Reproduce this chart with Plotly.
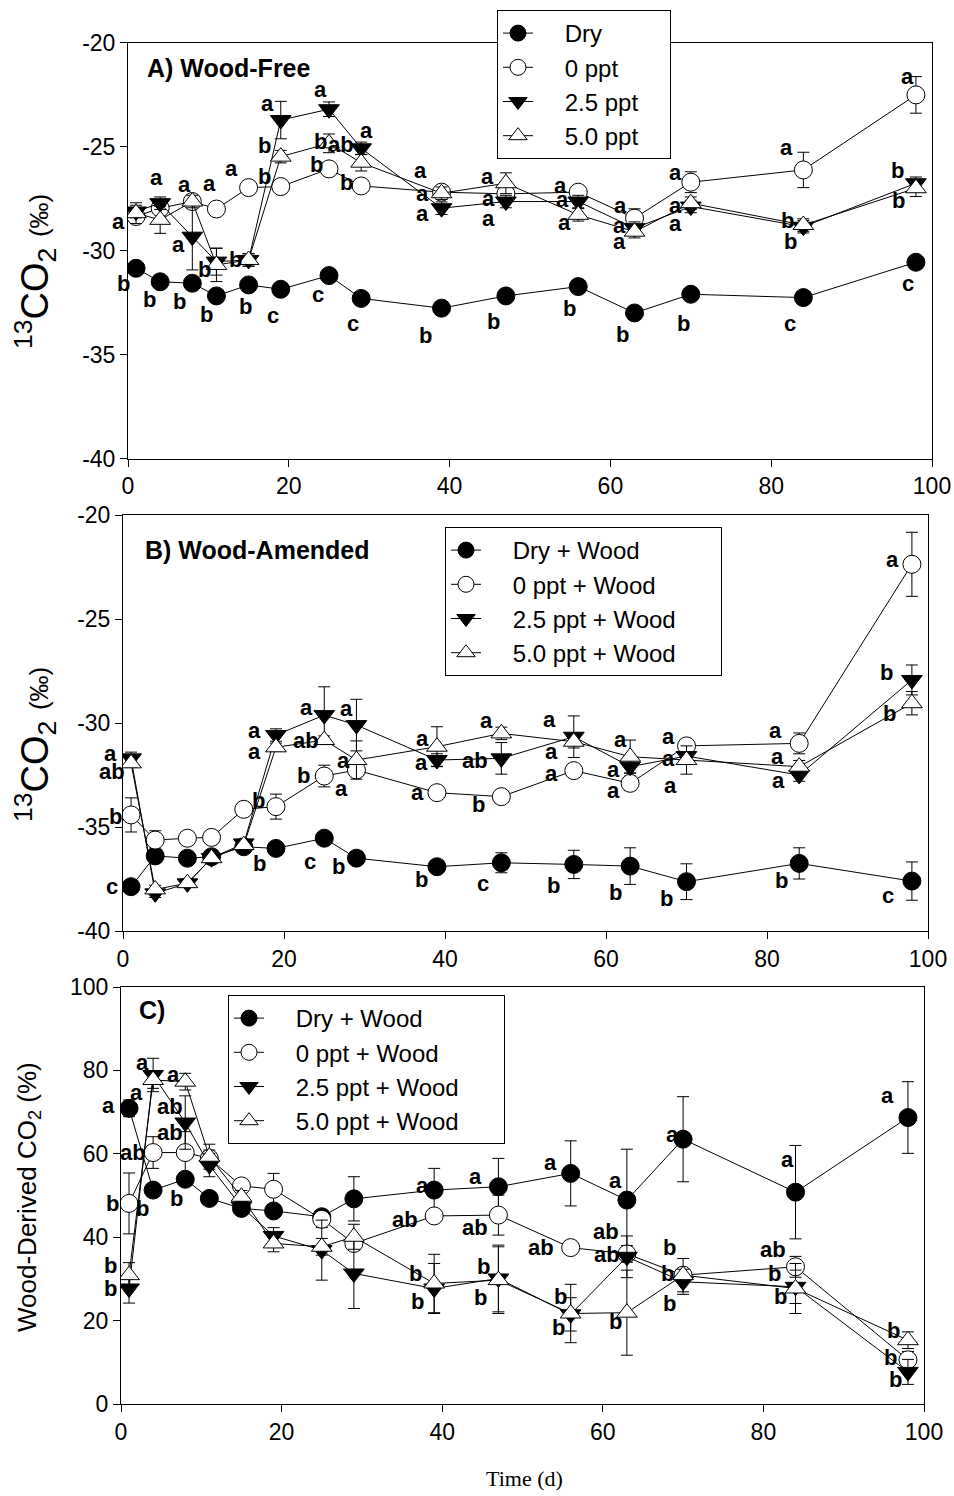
import plotly.graph_objects as go

# ---------------- data ----------------
times = [1, 4, 8, 11, 15, 19, 25, 29, 39, 47, 56, 63, 70, 84, 98]

# Panel A: 13CO2, wood-free
A_dry = [-30.85, -31.5, -31.57, -32.18, -31.65, -31.86, -31.2, -32.3, -32.77, -32.18, -31.73, -33.0, -32.1, -32.26, -30.56]
A_dry_err = [0.2] * 15
A_0 = [-28.36, -27.96, -27.64, -28.0, -26.97, -26.92, -26.07, -26.89, -27.19, -27.27, -27.19, -28.44, -26.71, -26.12, -22.51]
A_0_err = [0.3, 0.3, 0.3, 0.2, 0.2, 0.2, 0.3, 0.2, 0.3, 0.3, 0.3, 0.45, 0.5, 0.85, 0.88]
A_25 = [-28.12, -27.72, -29.33, -30.53, -30.45, -23.72, -23.2, -25.08, -27.96, -27.64, -27.64, -28.92, -27.88, -28.85, -26.76]
A_25_err = [0.3, 0.3, 1.6, 0.65, 0.3, 0.9, 0.35, 0.3, 0.3, 0.3, 0.3, 0.3, 0.3, 0.3, 0.3]
A_50 = [-28.2, -28.52, -27.64, -30.69, -30.45, -25.48, -24.84, -25.77, -27.24, -26.76, -28.28, -29.09, -27.72, -28.77, -27.0]
A_50_err = [0.5, 0.65, 0.3, 0.8, 0.3, 0.3, 0.45, 0.4, 0.3, 0.5, 0.3, 0.3, 0.3, 0.3, 0.4]

A_dry_let = ["b", "b", "b", "b", "b", "c", "c", "c", "b", "b", "b", "b", "b", "c", "c"]
A_0_let = ["a", "a", "a", "a", "a", "b", "b", "b", "a", "a", "a", "a", "a", "a", "a"]
A_25_let = ["", "", "a", "b", "", "a", "a", "a", "a", "a", "a", "a", "a", "b", "b"]
A_50_let = ["", "", "", "", "b", "b", "b", "ab", "a", "a", "a", "a", "a", "b", "b"]

# Panel B: 13CO2, wood-amended
B_dry = [-37.87, -36.39, -36.5, -36.43, -35.95, -36.03, -35.54, -36.5, -36.91, -36.72, -36.8, -36.88, -37.63, -36.75, -37.6]
B_dry_err = [0.2, 0.2, 0.2, 0.2, 0.2, 0.2, 0.2, 0.2, 0.2, 0.48, 0.68, 0.88, 0.86, 0.75, 0.92]
B_0 = [-34.42, -35.63, -35.54, -35.5, -34.15, -34.02, -32.55, -32.26, -33.35, -33.54, -32.29, -32.9, -31.1, -30.98, -22.37]
B_0_err = [0.82, 0.45, 0.2, 0.2, 0.2, 0.6, 0.52, 0.2, 0.2, 0.2, 0.2, 0.35, 0.3, 0.5, 1.54]
B_25 = [-31.7, -38.19, -37.71, -36.5, -35.79, -30.58, -29.62, -30.1, -31.78, -31.7, -30.66, -32.1, -31.59, -32.5, -27.93]
B_25_err = [0.3, 0.2, 0.2, 0.2, 0.2, 0.3, 1.36, 1.24, 0.3, 0.76, 1.0, 0.3, 0.2, 0.3, 0.72]
B_50 = [-31.94, -38.0, -37.7, -36.5, -35.87, -31.17, -30.82, -31.78, -31.14, -30.5, -30.9, -31.62, -31.78, -32.1, -29.05]
B_50_err = [0.2, 0.2, 0.2, 0.2, 0.2, 0.2, 0.2, 0.92, 0.96, 0.3, 0.3, 0.8, 0.68, 0.3, 0.56]

B_dry_let = ["c", "", "", "", "", "b", "c", "b", "b", "c", "b", "b", "b", "b", "c"]
B_0_let = ["b", "", "", "", "", "b", "b", "a", "a", "b", "a", "a", "a", "a", "a"]
B_25_let = ["a", "", "", "", "", "a", "a", "a", "a", "ab", "a", "a", "a", "a", "b"]
B_50_let = ["ab", "", "", "", "", "a", "ab", "a", "a", "a", "a", "a", "a", "a", "b"]

# Panel C: wood-derived CO2 (%)
C_dry = [70.9, 51.3, 53.9, 49.3, 46.9, 46.3, 44.9, 49.2, 51.3, 52.1, 55.3, 48.9, 63.5, 50.8, 68.7]
C_dry_err = [2.0, 1.5, 1.5, 1.5, 1.5, 1.5, 1.5, 5.3, 5.2, 6.8, 7.8, 12.2, 10.2, 11.2, 8.6]
C_0 = [48.1, 60.3, 60.3, 58.9, 52.3, 51.5, 44.3, 38.5, 45.1, 45.3, 37.5, 36.0, 30.9, 32.9, 10.6]
C_0_err = [7.3, 3.8, 5.0, 2.0, 1.5, 3.8, 2.0, 1.5, 1.5, 4.8, 1.5, 2.0, 1.5, 2.5, 2.0]
C_25 = [27.7, 78.9, 67.5, 57.3, 47.3, 40.3, 36.9, 31.3, 27.7, 30.1, 21.5, 35.3, 29.3, 28.1, 7.7]
C_25_err = [3.5, 4.0, 6.4, 2.8, 1.5, 2.0, 7.2, 8.4, 6.0, 8.0, 4.0, 5.0, 3.0, 4.0, 3.0]
C_50 = [30.9, 77.7, 77.3, 59.3, 49.7, 38.5, 37.7, 40.1, 28.9, 29.7, 21.7, 21.9, 30.9, 27.7, 15.3]
C_50_err = [3.0, 2.0, 2.0, 3.0, 1.5, 2.0, 2.0, 3.0, 7.0, 8.0, 7.0, 10.2, 4.0, 6.0, 2.0]

C_dry_let = ["a", "b", "b", "", "", "", "", "", "a", "a", "a", "a", "a", "a", "a"]
C_0_let = ["b", "ab", "ab", "", "", "", "", "", "ab", "ab", "ab", "ab", "b", "ab", "b"]
C_25_let = ["b", "a", "ab", "", "", "", "", "", "b", "b", "b", "ab", "b", "b", "b"]
C_50_let = ["b", "a", "a", "", "", "", "", "", "b", "b", "b", "b", "b", "b", "b"]

x_ticks = [0, 20, 40, 60, 80, 100]
x_ticklabels = ["0", "20", "40", "60", "80", "100"]
AB_yticks = [-40, -35, -30, -25, -20]
AB_yticklabels = ["-40", "-35", "-30", "-25", "-20"]
C_yticks = [0, 20, 40, 60, 80, 100]
C_yticklabels = ["0", "20", "40", "60", "80", "100"]

# ---------------- label offsets (pixels: dx right, dy down) ----------------
A_dry_off = [(-13, 15), (-11, 18), (-13, 18), (-10, 19), (-3, 22), (-8, 26), (-11, 19), (-8, 25), (-16, 27), (-12, 26), (-9, 22), (-12, 22), (-7, 29), (-13, 26), (-8, 21)]
A_0_off = [(-18, 5), (-4, -31), (-8, -17), (-7, -26), (-17, -19), (-16, -10), (-13, -4), (-15, -3), (-21, -22), (-17, 5), (-18, -7), (-14, -13), (-15, -10), (-17, -22), (-8, -18)]
A_25_off = [(0, 0), (0, 0), (-14, 8), (-12, 8), (0, 0), (-13, -17), (-9, -20), (5, -18), (-19, 5), (-17, 17), (-16, -2), (-15, -3), (-15, 17), (-13, 15), (-18, -13)]
A_50_off = [(0, 0), (0, 0), (0, 0), (0, 0), (-13, 0), (-16, -11), (-9, -2), (-20, -18), (-19, 0), (-18, -7), (-14, 8), (-15, 10), (-15, 2), (-16, -5), (-17, 12)]

B_dry_off = [(-19, 0), (0, 0), (0, 0), (0, 0), (0, 0), (-16, 15), (-14, 23), (-18, 8), (-15, 13), (-18, 21), (-20, 21), (-15, 26), (-20, 17), (-18, 17), (-24, 14)]
B_0_off = [(-16, 2), (0, 0), (0, 0), (0, 0), (0, 0), (-17, -6), (-21, -1), (-15, 18), (-19, 0), (-23, 8), (-22, 3), (-17, 7), (-18, -9), (-24, -13), (-19, -5)]
B_25_off = [(-21, -5), (0, 0), (0, 0), (0, 0), (0, 0), (-21, -5), (-18, -8), (-10, -17), (-15, 2), (-26, 2), (-24, -17), (-17, 3), (-18, 2), (-21, 5), (-25, -7)]
B_50_off = [(-19, 8), (0, 0), (0, 0), (0, 0), (0, 0), (-21, 4), (-18, 0), (-13, 0), (-14, -8), (-15, -13), (-22, 10), (-10, -17), (-16, 25), (-22, -10), (-22, 10)]

C_dry_off = [(-21, -3), (-11, 18), (-9, 19), (0, 0), (0, 0), (0, 0), (0, 0), (0, 0), (-12, -5), (-23, -10), (-20, -11), (-11, -20), (-11, -5), (-8, -33), (-20, -22)]
C_0_off = [(-17, 0), (-20, 0), (-15, -20), (0, 0), (0, 0), (0, 0), (0, 0), (0, 0), (-29, 4), (-23, 12), (-30, 0), (-21, -22), (-14, -28), (-23, -17), (-17, -2)]
C_25_off = [(-19, 0), (-11, -12), (-15, -16), (0, 0), (0, 0), (0, 0), (0, 0), (0, 0), (-17, 13), (-15, -12), (-10, -18), (-20, -2), (-14, 22), (-15, 10), (-12, 8)]
C_50_off = [(-19, -10), (-17, 13), (-12, -7), (0, 0), (0, 0), (0, 0), (0, 0), (0, 0), (-19, -10), (-18, 17), (-12, 14), (-11, 9), (-16, -2), (-21, -15), (-14, -10)]

# ---------------- figure ----------------
PAGE_OFF = 0                    # body margin removed by post_script below
W, H = 954, 1496
FONT = "Liberation Sans, Arial, sans-serif"
NB = "\u00a0"

def fx(p):
    return (p - PAGE_OFF) / W

def fy(p):
    return 1 - (p - PAGE_OFF) / H

fig = go.Figure()

styles = [
    dict(symbol="circle", color="black"),
    dict(symbol="circle", color="white"),
    dict(symbol="triangle-down", color="black"),
    dict(symbol="triangle-up", color="white"),
]

panels = [
    ("x", "y", "legend", ["Dry", "0 ppt", "2.5 ppt", "5.0 ppt"], 4,
     [(A_dry, A_dry_err, A_dry_let, A_dry_off), (A_0, A_0_err, A_0_let, A_0_off),
      (A_25, A_25_err, A_25_let, A_25_off), (A_50, A_50_err, A_50_let, A_50_off)]),
    ("x2", "y2", "legend2", ["Dry + Wood", "0 ppt + Wood", "2.5 ppt + Wood", "5.0 ppt + Wood"], 6,
     [(B_dry, B_dry_err, B_dry_let, B_dry_off), (B_0, B_0_err, B_0_let, B_0_off),
      (B_25, B_25_err, B_25_let, B_25_off), (B_50, B_50_err, B_50_let, B_50_off)]),
    ("x3", "y3", "legend3", ["Dry + Wood", "0 ppt + Wood", "2.5 ppt + Wood", "5.0 ppt + Wood"], 6,
     [(C_dry, C_dry_err, C_dry_let, C_dry_off), (C_0, C_0_err, C_0_let, C_0_off),
      (C_25, C_25_err, C_25_let, C_25_off), (C_50, C_50_err, C_50_let, C_50_off)]),
]

annotations = []
for xa, ya, lg, names, pad, series in panels:
    for k, (vals, errs, lets, offs) in enumerate(series):
        st = styles[k]
        fig.add_trace(go.Scatter(
            x=times, y=vals, xaxis=xa, yaxis=ya, name=NB * 4 + names[k] + NB * pad, legend=lg,
            mode="lines+markers",
            line=dict(color="black", width=1),
            marker=dict(symbol=st["symbol"], size=18, color=st["color"],
                        line=dict(color="black", width=1)),
            error_y=dict(type="data", array=errs, visible=True, color="black",
                         thickness=1, width=6),
        ))
    for k, (vals, errs, lets, offs) in enumerate(series):
        for t, v, L, (dx, dy) in zip(times, vals, lets, offs):
            if not L:
                continue
            annotations.append(dict(
                x=t, y=v, xref=xa, yref=ya, text="<b>%s</b>" % L, showarrow=False,
                xshift=dx, yshift=-dy, xanchor="center", yanchor="middle",
                font=dict(family=FONT, size=22, color="black")))

# plot frames in page pixels
dom = {
    "A": dict(x=(128, 932), y=(42.7, 458.5)),
    "B": dict(x=(123, 928), y=(515, 931)),
    "C": dict(x=(121, 924), y=(987, 1404)),
}

def xd(p):
    return [fx(p[0]), fx(p[1])]

def yd(p):
    return [fy(p[1]), fy(p[0])]

axis_common = dict(showline=True, linecolor="black", linewidth=1, mirror=True,
                   ticks="outside", ticklen=7, tickcolor="black", tickwidth=1,
                   showgrid=False, zeroline=False, automargin=False,
                   ticklabeloverflow="allow",
                   tickfont=dict(family=FONT, size=23, color="black"))

fig.update_layout(
    width=W, height=H, autosize=False,
    margin=dict(l=0, r=0, t=0, b=0, pad=0, autoexpand=False),
    paper_bgcolor="white", plot_bgcolor="white",
    showlegend=True,
    xaxis=dict(domain=xd(dom["A"]["x"]), range=[0, 100], tickvals=x_ticks, ticktext=x_ticklabels, anchor="y", **axis_common),
    yaxis=dict(domain=yd(dom["A"]["y"]), range=[-40, -20], tickvals=AB_yticks, ticktext=AB_yticklabels, anchor="x", **axis_common),
    xaxis2=dict(domain=xd(dom["B"]["x"]), range=[0, 100], tickvals=x_ticks, ticktext=x_ticklabels, anchor="y2", **axis_common),
    yaxis2=dict(domain=yd(dom["B"]["y"]), range=[-40, -20], tickvals=AB_yticks, ticktext=AB_yticklabels, anchor="x2", **axis_common),
    xaxis3=dict(domain=xd(dom["C"]["x"]), range=[0, 100], tickvals=x_ticks, ticktext=x_ticklabels, anchor="y3", **axis_common),
    yaxis3=dict(domain=yd(dom["C"]["y"]), range=[0, 100], tickvals=C_yticks, ticktext=C_yticklabels, anchor="x3", **axis_common),
)

leg_common = dict(bgcolor="white", bordercolor="black", borderwidth=1,
                  font=dict(family=FONT, size=24, color="black"),
                  xanchor="left", yanchor="top", tracegroupgap=0, itemsizing="trace")
fig.update_layout(
    legend=dict(x=fx(497), y=fy(10), **leg_common),
    legend2=dict(x=fx(445), y=fy(527), **leg_common),
    legend3=dict(x=fx(228), y=fy(995), **leg_common),
)

# panel titles
for txt, xp, yp in [("A) Wood-Free", 145, 68), ("B) Wood-Amended", 143, 550), ("C)", 137, 1010)]:
    annotations.append(dict(x=fx(xp), y=fy(yp), xref="paper", yref="paper",
                            text="<b>%s</b>" % txt, showarrow=False,
                            xanchor="left", yanchor="middle",
                            font=dict(family=FONT, size=25, color="black")))

# axis titles
ytitle = "<sup>13</sup>CO<sub>2</sub> <span style='font-size:26px'>(‰)</span>"
for yc in [272, 745]:
    annotations.append(dict(x=fx(35), y=fy(yc), xref="paper", yref="paper",
                            text=ytitle, showarrow=False, textangle=-90,
                            xanchor="center", yanchor="middle",
                            font=dict(family=FONT, size=38, color="black")))
annotations.append(dict(x=fx(28), y=fy(1197), xref="paper", yref="paper",
                        text="Wood-Derived CO<sub>2</sub> (%)", showarrow=False, textangle=-90,
                        xanchor="center", yanchor="middle",
                        font=dict(family=FONT, size=26, color="black")))
annotations.append(dict(x=fx(524), y=fy(1478), xref="paper", yref="paper",
                        text="Time (d)", showarrow=False,
                        xanchor="center", yanchor="middle",
                        font=dict(family="Liberation Serif, Times New Roman, serif", size=22, color="black")))

fig.update_layout(annotations=annotations)

fig.write_html("out.html",
               config={"displayModeBar": False, "staticPlot": True},
               post_script="document.body.style.margin='0';document.body.style.overflow='hidden';")
